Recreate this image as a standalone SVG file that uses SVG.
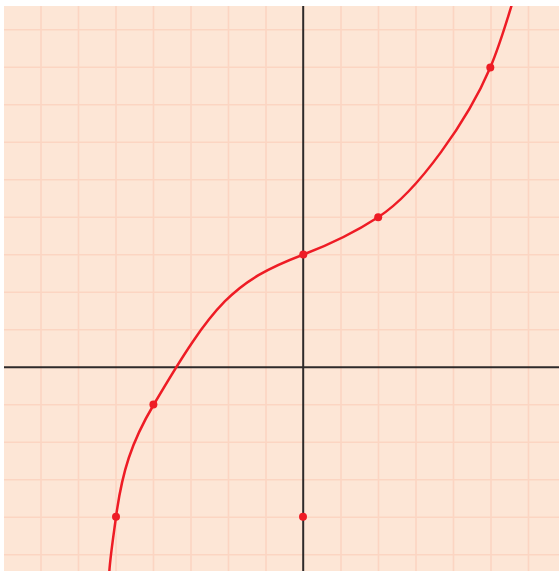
<svg xmlns="http://www.w3.org/2000/svg" width="559" height="571" viewBox="0 0 559 571">
<style>
.bg{fill:#fde6d6}
.grid line{stroke:#fcd5c2;stroke-width:1.6}
.axis{stroke:#2e2a2a;stroke-width:2}
.curve{fill:none;stroke:#ee1c25;stroke-width:2.5;stroke-linejoin:round}
.pt{fill:#ee1c25}
</style>
<defs>
<clipPath id="plot"><rect x="4" y="6" width="555" height="565"/></clipPath>
</defs>
<rect class="bg" x="4" y="6" width="555" height="565"/>
<g class="grid" clip-path="url(#plot)">
<line x1="41" y1="6" x2="41" y2="571"/>
<line x1="78.5" y1="6" x2="78.5" y2="571"/>
<line x1="116" y1="6" x2="116" y2="571"/>
<line x1="153.5" y1="6" x2="153.5" y2="571"/>
<line x1="191" y1="6" x2="191" y2="571"/>
<line x1="228.5" y1="6" x2="228.5" y2="571"/>
<line x1="266" y1="6" x2="266" y2="571"/>
<line x1="341" y1="6" x2="341" y2="571"/>
<line x1="378.5" y1="6" x2="378.5" y2="571"/>
<line x1="416" y1="6" x2="416" y2="571"/>
<line x1="453.5" y1="6" x2="453.5" y2="571"/>
<line x1="491" y1="6" x2="491" y2="571"/>
<line x1="528.5" y1="6" x2="528.5" y2="571"/>
<line x1="4" y1="29.8" x2="559" y2="29.8"/>
<line x1="4" y1="67.3" x2="559" y2="67.3"/>
<line x1="4" y1="104.8" x2="559" y2="104.8"/>
<line x1="4" y1="142.3" x2="559" y2="142.3"/>
<line x1="4" y1="179.8" x2="559" y2="179.8"/>
<line x1="4" y1="217.3" x2="559" y2="217.3"/>
<line x1="4" y1="254.8" x2="559" y2="254.8"/>
<line x1="4" y1="292.3" x2="559" y2="292.3"/>
<line x1="4" y1="329.8" x2="559" y2="329.8"/>
<line x1="4" y1="404.8" x2="559" y2="404.8"/>
<line x1="4" y1="442.3" x2="559" y2="442.3"/>
<line x1="4" y1="479.8" x2="559" y2="479.8"/>
<line x1="4" y1="517.3" x2="559" y2="517.3"/>
<line x1="4" y1="554.8" x2="559" y2="554.8"/>
</g>
<g id="axes">
<line class="axis" x1="4" y1="367.2" x2="559" y2="367.2"/>
<line class="axis" x1="303.2" y1="6" x2="303.2" y2="571"/>
</g>
<g id="connectors" clip-path="url(#plot)">
<path class="curve" d="M109.3,572 C110.3,556 113.6,535 116,517 C122,472 131.5,442 153.5,405 C213.5,303 233.5,281.1 303.5,254.5 C328.5,245 353.5,233.25 378.5,217 C418.5,191 468.3,119.2 490.3,67.5 C498.3,48.7 509,14 512,4"/>
</g>
<g id="p1"><circle class="pt" cx="303.3" cy="254.6" r="4"/></g>
<g id="p2"><circle class="pt" cx="378.2" cy="217.2" r="4"/></g>
<g id="p3"><circle class="pt" cx="490.3" cy="67.5" r="4"/></g>
<g id="p4"><circle class="pt" cx="153.4" cy="404.6" r="4"/></g>
<g id="p5"><circle class="pt" cx="116" cy="516.8" r="4"/></g>
<g id="p6"><circle class="pt" cx="303" cy="516.8" r="4"/></g>
</svg>
